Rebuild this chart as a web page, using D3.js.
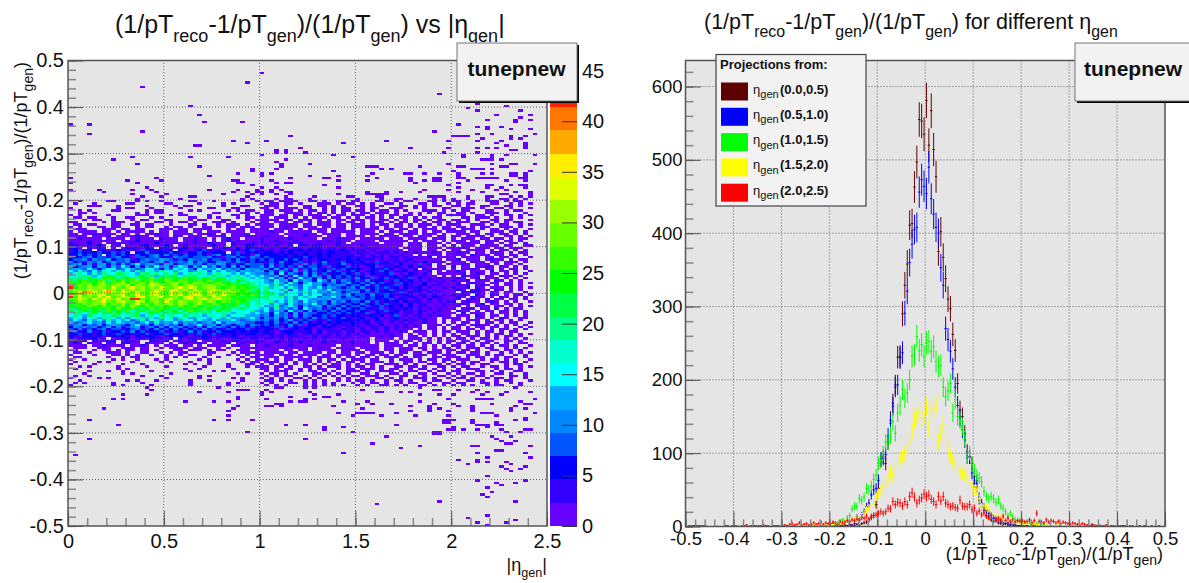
<!DOCTYPE html>
<html>
<head>
<meta charset="utf-8">
<script src="https://cdn.jsdelivr.net/npm/d3@7"></script>
<style>
  html, body { margin: 0; padding: 0; background: #fff; overflow: hidden; }
  text { font-family: "Liberation Sans", Arial, sans-serif; fill: #111; }
</style>
</head>
<body>
<div id="chart"></div>
<script>
// --- left panel data: colour level of every filled cell (100 x 200 bins) ---
const paletteColors = ["#6600ff","#3300ff","#0000ff","#0055ff","#0088ff","#00aaff","#00ffff","#00ffcc","#00ff88","#00ff44",
  "#00ff00","#33ff00","#66ff00","#99ff00","#ddff00","#ffee00","#ffaa00","#ff7700","#ff2200","#ff0000"];
const zMax = 46;

// isolated cells above y = 0.2: [row, col, col, ...]
const topCells = [[5,40],[9,37],[11,15],[14,77],[18,85],[19,25,91],[20,83],[21,85,94],[23,27,89,96],[24,94],[25,87,93,96],
  [26,28,36,93],[27,0,4,81],[28,85,87,90],[29,87,92,96],[30,15,76],[31,4,85,88,97],[32,46,80,81,82,83,92,95],[33,86,92,94],
  [34,34,41,66,79,85,90],[35,37,57,89,95],[36,26,27,91,95],[37,48,71,79,85,87,89,95],[38,43,45,92,93],[39,43,45,49,78,85],
  [40,40,55,82,88,91,97],[41,13,25,33,59,82,88],[42,9,45,86,87,88,90],[43,43],[44,14,44,50,79,88,92,93,97],
  [45,27,44,62,63,64,73,81,82,90,91],[46,38,43,65,67,84,85,86,88],[47,38,55,80,96],[48,35,40,42,63,70,71,74,77,81,86,88,92,93,95],
  [49,29,40,50,56,62,81,92,93,95],[50,0,18,46,53,54,64,71,76,77,81,82,85,86,87,88,89,94,95],[51,12,19,34,35,42,56,62,71,74,76,77,83,91,95],
  [52,0,14,35,36,43,45,46,72,81],[53,38,53,79,87,88,92,94,95],[54,16,40,43,56,81,87,90,95],[55,0,6,13,17,29,35,39,42,44,74,79,84,89,91],
  [56,7,18,34,37,39,40,42,45,46,62,66,69,73,81,86,93,96],[57,13,20,32,38,40,43,46,56,62,63,64,65,66,90,91,96],
  [58,15,19,25,26,37,45,51,58,59,64,65,75,76,77,78,83,87,88,92,94,96],[59,14,23,36,38,43,45,46,50,60,65,68,69,72,76,78,80,83,87,90,91,93,95]];

// isolated cells below y = -0.2
const bottomCells = [[140,16,31,43,44,49,51,73,93],[141,17,35,36,37,41,61,76,77,81,85],[142,27,33,40,42,50,64,65,69,71,84,87,91,96],
  [143,11,16,40,51,56,73,77,80,86,90],[144,35,46,53,54],[145,9,11,35,41,49,51,79,85,86,87,88,97],[146,24,30,33,46,48,49,57,62,73,94],
  [147,43,44,60,63,67,76,80,88,95,96],[148,35,41,42,44,55,71,75,81,84,93],[149,7,34,61,75,77,84,92,95],[150,33,71,75,79,84,92],
  [151,56,60,61,62,63,68,86,87,88,97],[152,33,59,65,72,79,89],[153,95],[154,4,30,33,38,78,79,80,84,93,95],[155,78,79,84,89],
  [156,10,45,49,68,85,86,87,89,90],[157,53,57,80,87],[158,53,79,80,82,85,90,95,96],[159,37,59,76,77,91,94],[160,76,77],[161,66,88,92],
  [162,4,49,89],[163,90,93],[164,63,91,92],[165,73,84,85,96],[166,69],[167,89,90],[168,57,85,95],[169,1],[170,87,96],[171,81,85],
  [172,85,87,91],[173,83,92],[174,90,95],[175,91,94],[176,92],[178,87],[180,85,95],[181,89,93],[182,90],[183,87],[185,88],[186,86],
  [187,87],[189,77,93],[190,64],[195,87],[196,83],[197,93],[198,85,91],[199,87]];

// rows 60..139 (y = 0.2 down to -0.2): one base-36 colour level per column, '.' = empty,
// spaces only split the columns at eta 1, 1.5 and 2
const coreRows = [
"..1.....11....1.1..1.....11...1.....1..1 .11.1111..11.1..11.1 1...11..1.11...11.1. 11..1..111.1.11..",
".1...1......11......11.....1....1.1..... 1.11.11.1...111.1.11 .1.1..11.1...11.1..1 .1.11...11..1.1.1",
"....111...1.....1.....1.11......1...11.. .111.1...11.11.1.1.. 11.1.1...11.1.1.11.. 11.1..11...11.1..",
"1.........1.11...1.....1.....11...11.... 11.1.111.11..1.1.11. .1.11..111..1.1...11 ..111.1..11.1...1",
"..1.1....11.....1.11.....1.1.....1.1.11. .11.111.1.11.1.1.11. 11.1.11.1.1...111.1. 1.11...11..1.11..",
"..11.1........1.1.11...1......11....11.1 .11..1111.1.11.1.1.1 .11.111.1..1.1.1.11. .11.1..111.1...1.",
"1.1.....1.....111....1.11....1....11.1.. 111.11.11.111.1.11.1 11.1.1.11.11.1...1.1 111..11.1..11.1.1",
".11.11...1..11...1.1.....11..1.1...1.11. 11.111.1.1.111.11.1. 1.11.1.1.11.1.1.11.. ..11.111.1..1.1..",
"...1.11..1...1.11...11...1.11...11...1.1 1111.11.111.1.1.11.1 11.1.11.1.1.11.1.11. 11.1.1..11.11...1",
"11.....1.111..1...11.1.11.1...111.1...1. 11.111.11.1.111.1.11 .1.111.1.11.1.1.11.1 .111..11.1.1.11..",
".11.11...11..11.11...1...11.1..1.111.1.1 111.1111.11.111.11.1 11.1.11.11.1.111.1.1 11..111.1.11..1.1",
"1.1...11.11...1.11..1.11.1..11.1.11.111. 111.1211.111.11.11.1 11.11.1.11.1.11.1.11 .11.1.11..111.1..",
".111...111.11.11...111.11.1111...1.11.11 11.1111.1.1111.111.1 .1111.11.11.1.111.11 1.111.1.11.1.1..1",
"1.1111.11.1.1111.1.11.111.11.111.1111.11 11211.11111.11.11111 .111.1.111.11.1.11.1 111.11..111.11.1.",
"11.1121111.11.1.11211.1111.1121.1.1111.1 1111.1111211.1111.11 .1111.11.1111.111.1. .111.1.11.11.1.1.",
"1111.1112.1111211.111.21.111.1112.111211 12111.1112111.111.11 11.1.1111.11.111.11. 11.1111.1..11.1.1",
"1121111.1111.12111.2111.11211.1.1211.111 211111211111.1112111 .11111.111.1111.111. 1.111.11.11.1.11.",
"1111211111.111311112111.11211.1.12121111 2112111211111121211. 1111.111111.1.111.1. 111.11.111.11.1..",
"2111311.1211121111311121112113111.211121 211121212111211121.1 11111.1111.111.111.1 .11111.11.1.11.1.",
"22112131.12.1112311131.1211111311.211321 1212112.221221112111 1211111111.111.11.1. 1.111.1111.11..11",
"231.2122.1.1322132.2211231221.1122131322 21212312212221221212 112121111.1111.111.1 1121.111.11.111..",
"23423.2312321214232323.32123422311232342 32212132323232322322 2212112121.111.11.1. 11.1111.1.11.1.1.",
"2343234334243.3352333432133432333.241323 23323232232232332221 222122212121211121.1 1211.11.111.1.11.",
"3353434.34343243345352434334314534243315 33332323232232322222 121212121211.1.111.1 111.2111.11.11.1.",
"4324534424533144345332544344453214534254 34333323343232322232 2212221221212112.111 1.1111.11.11.1..1",
"3445254463445234544654243544534424353243 43433434313233223232 322212122122111111.1 12.111.1211.1.11.",
"5342546346445325435625454635433554254343 32435233423125322433 2312423122212131211. 111.211.11.111.1.",
"4563525635262574564365245645354653423544 43524334152434223513 2233122213121412.1.1 1121.111.1.11.1..",
"6345636526475363647562576364746253635344 53624342534431423342 2123412232131211.11. 2.11.1121.11.1.1.",
"5664753678457645785364767527565746453655 45362515243523142433 3213224312212.21111. 1.1121.11.1.11.1.",
"7586475876867596786978687568747675646656 63526436153423524134 3123243122312112.1.1 121.111.2.11.1..1",
"6897586987a98769a89797a67989868978675765 54637254363524233432 4213223412132121.111 112.121.11.1.1.1.",
"878a9679ba8a97ab8a6a9ba8a9b789a8967a8676 75463527453642534343 23412322313212211.1. 1.2111.11.211.1..",
"99a8ba8bcb9abc8abdabc9bacba9ba8ba8979868 65746352745363534242 53241342322413121211 121.12.111.1.1.1.",
"a9bcabcd9cbdacdbcdabdcbdcbacbdaba97ba878 76485637465375362543 42523312432312122121 2112.111.21.1.1..",
"cabdcbdeacdebdcdbedacdecdbedcbcdab9a8a97 86576485367564453463 34253423143221311211 12.1211.11.11.1.1",
"bcdcebdecdedebedcfedcdebdedcdedcdbcaba98 87695765487563545534 43524332413212312211 1212.121.1.11.1..",
"jbdcededcfdcegdecedfdcefdfecdeecbcdbcba9 79687586476584654345 35234242313223121121 2112.21.111.1.1.1",
"ceddfedfhecfdedecdfecfgdecfdcefedecdbc9b 89776947586765745454 43534234232123212111 131.1211.21.1.1..",
"cdgihfdehedgecfdcefdcfdecfdecfdcedecbcab 8a978587696756485345 53424333241322131211 1.21321.11.11..1.",
"hdfcedfgcdefcdgdcefdcgdfcegfcefdgdcbcbca 79a86978576784565463 44353243223212212121 2121.21.21.1.11.1",
"jcfdecfdgcdfecfgcdefcdecfgdedcfedcbcabab 9a789685869746575354 34243343122321213211 121.211.1.21.1.1.",
"cdfecfdgedfcdjjdcedcefdcefdegdefddcbbca9 89787685776565645445 54343234232122131211 12.121.2.11.11.1.",
"bcedcdegdcefdcfebdecfdcedcdecedbdcacba89 78967586475645364534 43524232313222121212 2.1211.121.1.1..1",
"acbdcedebdceadfcdbdcdecedbdecbdcbabc9a89 87586475465745354343 35234242231312211121 1121.12.11.11.1..",
"bacbdcbdcacdbecbdacdbcadbcdbaca9bab98a78 75694675364563543534 43423423231312211121 12.1.211.11.1.1.1",
"9abcabcacbdabca9bdacba9bcabacb9aba89a878 67485646375452435343 34232413223212121211 1.121.11.2.1.11..",
"a89baba9cabac8ab9acb9ab8acba9a8b9a788796 57465374536344352433 43213242312213211211 .211.1.11.11.1.1.",
"89a79b8aa9b8a9a79ba8a9ba8a98a97898687767 56374536254433424343 23413223212213112111 1.2.111.1.11.1.1.",
"7986a8798a9789a6897a8977a898688796778666 45364526354334243323 32232312412122121211 .111.21.11.1.1.1.",
"6875786897685789686978597668767868565675 35462534243524323432 23123122321212211.11 11.1.11.1.21..11.",
"5764867586767468578677568757657566754565 45253462434132423332 32213212213121211.1. 11.111.1.11.1.1..",
"6456756475865646748565746564564746565443 34352425343231323223 22312212121211211.1. 1.11.1.11.1.11..1",
"4563546356543574536464536457456354345354 24342352413323132223 21221311212121.111.1 .11.1211.1.1.1.1.",
"3545453462534563453536453425364543534243 33241343223213322122 22122121212111.11.1. 11.1.11.11.1..1.1",
"4352434534423452435243534342534324233423 23324123233122221322 121221212111.1.11.1. 11.11.1.1.11.1.1.",
"3423523423342534233423423534232433323233 23212332223131222122 12212121121.111.1.11 .111.1.11.1.11...",
"2342323432423223423342323224324232322332 22312232122221212121 2121111211.1.11.1.1. 1.11.1.1.11.1.1.1",
"3213223123232132332123232122321222321222 21222122211212212121 1211121211.11.1.1.1. 11.111.1.1.11.1..",
"21222312.1223122132212.21221321211222122 12212121121212111211 111.1111.1.111.1.1.1 .11.1.11.1.1.1.1.",
"1212.21122.1221..2212.12122.121121221212 21122121212112121112 111.111.1.11.1.1.1.1 1.11.1.11..11.1..",
"121.211.21.2211.2111.1.121121.1112.12112 11121121211112111112 111.1.111.1.1.11.1.1 .11.1.11.1.1..11.",
"1111.1121111.1121.1.111.11.1.1111.1211.1 1211112111211111.111 11111.1111.11.1.1.1. 11.11.1.1.11.1..1",
".111..111..111.11..1.1111.111..1.1..1111 1111121111.1211.1111 .1111.11.111.11.1.11 .1.111.11..1.1.1.",
"11...1.11.1.11.11.1...11.111.1.11..111.1 1111.11.11.11111.111 1.111.11.111..1.11.1 1.11.1..11.11.1..",
".11.1...111.1..11..1.1.11....11...1.1111 .1111.11.1111.11.11. 11.111.1.11.11.111.1 .11.11.1..1.1.1.1",
"1....1...11.1.1..1..1..1.11..1...1.1.1.1 111.111.1111.11.111. 1.11.11.11..111.1.11 1..111.1.11..1.1.",
".11.....1..1.11.....1.1.1...1..1....1.11 .111.1111.1.111.1.11 .11.1.111.1.11..11.1 11.1.11..1.11..1.",
"1..1.....1.1..1...1.1......1.1.....1.1.1 11.1.11.111.1.11.1.1 11.11..1.111.1.11.11 .111..1.11.1.1..1",
".1....1.1....1.....1.1...1...1......1.11 .111.1.1.11.1.1.1.11 .1.111.1..11.11.1.1. 1.1.11..1.11.1.1.",
"1....1.....1...1........1.1..1...1...11. 1.1.11.1.1.1.1.11.1. 1.11..111.1.1..111.1 .11.1.11...1.11..",
"..1.1.....1.....1...1.......1....1...1.1 11.11.1..11.1.111.1. 11.1.1..11.11.1..11. 1.11..1.11.1..1.1",
".1........1.1...........1..1......1..... 11.1.11.1.1.11..1.11 .111.1.11..1.11.1.1. .1.111...1.11.1..",
"....1...1..1.....1.......1....1.1....... .1.111..1.11.1.1..11 1.1..111.1.11..1.11. 11...11.1.1..11..",
"...1.......1.1.......1.............1.1.. 1.11.1.1...11.1.1.1. .11.1..11.1..11.1..1 .1.11.1..11.1..1.",
".1..1..........1...1.......1.1.......... .1.1.11..1.1.1.1.1.1 1.111.1..11.1.1..11. 1.1..11.1...11.1.",
"1.....1.1...........1......1......1.1... 1.1.1..11.1.1...1.1. .1..11.1.1..111.1..1 .11.1..1.11.1..1.",
"..1.........1.1...1......1...1......1... .11.1.1..1.1.1..1.1. 11.1..1.11.1..1.11.. 1..11.1..1.11...1",
".1.1.....1.....1.........1.......1.1.... 1.1...11.1.1.1.1...1 .1.11.1..1.11..1..11 .11...11.1..1.1..",
"1........1.1.....1.......1.......1...... .1.1.1...1.1.1.1.1.. 1.1..11.1.1..11.1.1. 1.1.1..1.11...1.."
].map(s => s.replace(/ /g, ""));

// --- right panel data: 200 bins over -0.5..0.5, one line for x<-0.2, one for the core, one for x>0.2 ---
const projDark = [
  0,0,0,1,0,0,0,0,1,0,0,0,0,0,0,0,0,1,0,0,0,0,0,0,1,0,0,0,0,0,0,0,0,1,0,0,0,0,1,0,0,0,1,0,0,1,0,0,0,1,0,1,0,0,1,0,1,0,0,0,
  0,1,0,2,1,0,2,1,3,2,1,3,2,4,5,6,9,12,15,30,52,90,95,86,115,145,168,193,231,232,290,329,358,411,413,463,497,555,553,535,
  581,520,567,514,477,375,402,367,338,310,297,262,240,195,159,150,127,102,95,86,68,54,36,27,23,15,12,9,7,8,5,4,3,4,2,3,1,2,1,1,
  1,0,1,0,0,1,0,0,1,0,0,1,0,0,0,0,1,0,0,0,0,0,1,0,0,0,0,0,0,1,0,0,0,0,0,0,0,1,0,0,0,0,0,0,0,0,0,0,0,0,0,1,0,0,0,0,0,0,0,0];
const projBlue = [
  0,0,0,0,0,1,0,0,0,0,0,0,0,1,0,0,0,0,0,0,0,1,0,0,0,0,0,0,1,0,0,0,0,0,1,0,0,0,0,0,1,0,0,0,1,0,0,1,0,0,1,0,0,1,0,0,1,0,1,0,
  0,0,1,0,1,2,0,1,2,1,4,13,9,16,20,27,32,43,50,52,63,92,93,98,123,141,164,190,193,230,237,291,321,360,385,405,408,456,473,464,
  454,490,447,426,408,400,353,329,270,255,239,215,190,165,148,132,118,95,95,73,59,63,40,32,27,22,18,16,11,12,9,7,5,4,5,2,3,2,1,1,
  1,1,0,1,1,0,1,0,0,1,0,1,0,0,1,0,0,0,1,0,0,0,0,1,0,0,0,0,0,0,0,1,0,0,0,0,0,0,0,0,0,0,1,0,0,0,0,0,0,0,0,0,0,0,0,0,0,0,0,0];
const projGreen = [
  0,0,0,0,0,0,0,0,1,0,0,0,0,0,0,0,1,0,0,0,0,1,0,0,0,0,1,0,0,0,0,1,0,0,0,0,1,0,0,1,1,0,1,0,1,1,0,1,1,2,1,1,2,1,2,1,3,2,1,3,
  2,4,3,5,6,9,7,12,15,24,28,27,38,36,40,52,50,55,64,70,86,90,100,115,115,125,143,127,155,165,186,175,182,200,232,234,259,240,248,232,
  250,252,239,245,225,218,220,190,177,185,195,155,173,150,145,136,120,95,100,85,77,70,66,61,48,41,38,41,38,33,36,28,25,20,15,18,14,10,8,9,
  7,6,5,4,5,3,4,3,2,3,2,1,2,1,1,2,1,0,1,1,0,1,0,1,0,0,1,0,0,0,0,0,1,0,0,0,0,0,0,1,0,0,0,0,0,0,0,0,0,1,0,0,0,0,0,0,0,0,0,0];
const projYellow = [
  0,0,0,0,0,0,0,0,0,0,0,0,0,1,1,0,0,0,0,0,0,0,0,1,0,0,0,0,0,1,0,0,0,0,1,0,0,1,0,0,1,1,0,1,0,2,1,1,2,1,2,1,1,3,2,2,3,2,4,2,
  3,2,4,3,5,4,6,8,7,10,9,12,14,15,18,23,25,31,30,41,45,50,55,59,65,75,68,78,86,92,95,100,102,114,130,145,150,155,148,152,
  164,134,159,161,166,116,127,139,124,105,95,90,86,80,73,73,70,68,60,55,50,50,38,27,28,27,24,18,17,15,12,14,10,8,9,7,6,5,6,4,
  4,3,5,2,3,4,2,3,2,1,2,1,2,1,1,2,1,0,1,1,1,0,1,1,0,1,0,0,1,0,0,0,1,0,0,0,0,1,0,0,0,0,0,0,1,0,0,0,0,0,0,0,0,0,0,1,0,0,0,0];
const projRed = [
  0,1,1,0,1,1,1,1,0,0,0,0,0,0,0,0,1,1,0,1,1,0,0,1,1,2,0,1,0,1,1,1,2,1,1,0,1,1,1,0,1,2,1,3,4,2,3,5,2,3,4,2,3,5,3,4,6,3,5,4,
  4,6,5,3,7,5,6,8,7,9,8,10,9,12,11,14,10,14,15,16,18,20,18,20,25,24,34,30,33,32,28,34,30,41,46,40,32,36,39,44,
  41,43,37,34,30,41,35,41,32,30,27,28,26,25,36,28,27,27,30,23,25,18,21,16,18,14,12,15,12,10,11,9,14,8,11,7,9,6,8,7,
  8,6,7,9,5,8,18,7,6,5,9,6,8,7,5,7,4,6,5,4,3,5,4,3,2,4,3,2,1,3,2,1,2,1,1,2,0,1,1,0,1,1,0,1,0,1,1,0,0,1,0,1,0,0,1,0,0,1,0,0];

const seriesList = [
  { label: "(0.0,0.5)", color: "#660000", swatch: "#5c0000", values: projDark },
  { label: "(0.5,1.0)", color: "#0000ff", swatch: "#0000ff", values: projBlue },
  { label: "(1.0,1.5)", color: "#00ff00", swatch: "#00ff00", values: projGreen },
  { label: "(1.5,2.0)", color: "#ffff00", swatch: "#ffff00", values: projYellow },
  { label: "(2.0,2.5)", color: "#ff0000", swatch: "#ff0000", values: projRed }
];

const etaTicks = [0, 0.5, 1, 1.5, 2, 2.5];
const resTicks = [-0.5, -0.4, -0.3, -0.2, -0.1, 0, 0.1, 0.2, 0.3, 0.4, 0.5];
const zTicks = [0, 5, 10, 15, 20, 25, 30, 35, 40, 45];
const countTicks = [0, 100, 200, 300, 400, 500, 600];

const width = 1189, height = 583;
const svg = d3.select("#chart").append("svg").attr("width", width).attr("height", height);

// text with subscripts, parts are [string, isSub]
function richText(g, x, y, parts, size, opts = {}) {
  const t = g.append("text").attr("x", x).attr("y", y)
    .attr("font-size", size)
    .attr("text-anchor", opts.anchor || "start")
    .attr("font-weight", opts.weight || "normal");
  if (opts.rotate) t.attr("transform", `rotate(-90 ${x} ${y})`);
  const drop = size * (opts.drop || 0.36);
  let down = false;
  parts.forEach(([str, sub]) => {
    const s = t.append("tspan").text(str);
    if (sub) s.attr("font-size", size * (opts.subScale || 0.72));
    if (sub && !down) { s.attr("dy", drop); down = true; }
    else if (!sub && down) { s.attr("dy", -drop); down = false; }
  });
  return t;
}

function styleAxis(g, color, fontSize, lineWidth = 1) {
  g.select(".domain").remove();
  g.selectAll("line").attr("stroke", color).attr("stroke-width", lineWidth);
  g.selectAll("text").attr("font-size", fontSize).style("fill", "#111");
}

function gridLines(g, xs, ys, x, y) {
  const r = x.range(), b = y.range();
  xs.forEach(v => g.append("line").attr("x1", x(v)).attr("x2", x(v)).attr("y1", b[0]).attr("y2", b[1])
    .attr("stroke", "#666").attr("stroke-dasharray", "1,2"));
  ys.forEach(v => g.append("line").attr("x1", r[0]).attr("x2", r[1]).attr("y1", y(v)).attr("y2", y(v))
    .attr("stroke", "#666").attr("stroke-dasharray", "1,2"));
}

function statBox(x, y, w, h, label, textX) {
  svg.append("rect").attr("x", x + 2).attr("y", y + 2).attr("width", w).attr("height", h).attr("fill", "#000");
  svg.append("rect").attr("x", x).attr("y", y).attr("width", w).attr("height", h)
    .attr("fill", "#f2f2f2").attr("stroke", "#777").attr("stroke-width", 1);
  svg.append("text").attr("x", textX).attr("y", y + 33).attr("text-anchor", "middle")
    .attr("font-size", 21).attr("font-weight", "bold").text(label);
}

// ---------- left panel ----------
const etaX = d3.scaleLinear().domain([0, 2.5]).range([68, 547]);
const resY = d3.scaleLinear().domain([-0.5, 0.5]).range([526, 60.5]);
const zY = d3.scaleLinear().domain([0, zMax]).range([526, 60.5]);
const zColor = d3.scaleQuantize().domain([0, zMax]).range(paletteColors);
const levelToZ = l => (l - 0.5) * zMax / paletteColors.length;

const cells = [];
[...topCells, ...bottomCells].forEach(([row, ...cols]) => cols.forEach(col => cells.push({ row, col, z: levelToZ(1) })));
coreRows.forEach((s, i) => {
  s.split("").forEach((c, col) => {
    if (c !== ".") cells.push({ row: 60 + i, col, z: levelToZ(parseInt(c, 36)) });
  });
});

const left = svg.append("g");
left.append("rect").attr("x", 68).attr("y", 60.5).attr("width", 479).attr("height", 465.5).attr("fill", "#e5e5e5");

left.append("g").attr("shape-rendering", "crispEdges")
  .selectAll("rect").data(cells).enter().append("rect")
  .attr("x", d => etaX(d.col * 0.025))
  .attr("y", d => resY(0.5 - d.row * 0.005))
  .attr("width", etaX(0.025) - etaX(0))
  .attr("height", resY(0) - resY(0.005))
  .attr("fill", d => zColor(d.z));

gridLines(left.append("g"), etaTicks.slice(1, -1), resTicks.slice(1, -1), etaX, resY);

// axes, ticks pointing inwards like ROOT
const leftMinorX = left.append("g").attr("transform", "translate(0,526)")
  .call(d3.axisBottom(etaX).tickValues(d3.range(0, 2.501, 0.1)).tickSize(-8).tickFormat(""));
styleAxis(leftMinorX, "#888", 0, 1.5);
const leftMinorY = left.append("g").attr("transform", "translate(68,0)")
  .call(d3.axisLeft(resY).tickValues(d3.range(-0.5, 0.501, 0.02)).tickSize(-8).tickFormat(""));
styleAxis(leftMinorY, "#888", 0, 1.5);
const leftX = left.append("g").attr("transform", "translate(0,526)")
  .call(d3.axisBottom(etaX).tickValues(etaTicks).tickSize(-15).tickPadding(8).tickFormat(d => String(d)));
styleAxis(leftX, "#555", 20);
const leftY = left.append("g").attr("transform", "translate(68,0)")
  .call(d3.axisLeft(resY).tickValues(resTicks).tickSize(-15).tickPadding(4).tickFormat(d => String(d)));
styleAxis(leftY, "#555", 20);

left.append("rect").attr("x", 68).attr("y", 60.5).attr("width", 479).attr("height", 465.5)
  .attr("fill", "none").attr("stroke", "#555").attr("stroke-width", 1.5);

// colour bar
left.append("g").attr("shape-rendering", "crispEdges")
  .selectAll("rect").data(paletteColors).enter().append("rect")
  .attr("x", 550).attr("width", 27)
  .attr("y", (d, i) => zY((i + 1) * zMax / paletteColors.length))
  .attr("height", zY(0) - zY(zMax / paletteColors.length))
  .attr("fill", d => d);
const zAxis = left.append("g").attr("transform", "translate(577,0)")
  .call(d3.axisRight(zY).tickValues(zTicks).tickSize(-15).tickPadding(5).tickFormat(d => String(d)));
styleAxis(zAxis, "#333", 20);

richText(svg, 115, 33, [["(1/pT"], ["reco", 1], ["-1/pT"], ["gen", 1], [")/(1/pT"], ["gen", 1], [") vs |η"], ["gen", 1], ["|"]], 25);
richText(svg, 27, 62, [["(1/pT"], ["reco", 1], ["-1/pT"], ["gen", 1], [")/(1/pT"], ["gen", 1], [")"]], 18, { anchor: "end", rotate: true, subScale: 0.78 });
richText(svg, 547, 571, [["|η"], ["gen", 1], ["|"]], 18, { anchor: "end", subScale: 0.7 });
statBox(457, 43, 120, 58, "tunepnew", 516.5);

// ---------- right panel ----------
const binX = d3.scaleLinear().domain([-0.5, 0.5]).range([685.5, 1165]);
const countY = d3.scaleLinear().domain([0, 635.5]).range([526.5, 60.5]);
const binW = 1 / 200;

const right = svg.append("g");
right.append("rect").attr("x", 685.5).attr("y", 60.5).attr("width", 479.5).attr("height", 466).attr("fill", "#e5e5e5");
gridLines(right.append("g"), resTicks.slice(1, -1), countTicks.slice(1), binX, countY);

seriesList.forEach(s => {
  const bins = s.values.map((v, i) => ({ v, lo: -0.5 + i * binW })).filter(d => d.v > 0);
  const g = right.append("g").attr("stroke", s.color).attr("stroke-width", 1);
  g.selectAll(".err").data(bins).enter().append("line")
    .attr("x1", d => binX(d.lo + binW / 2)).attr("x2", d => binX(d.lo + binW / 2))
    .attr("y1", d => countY(Math.max(0, d.v - Math.sqrt(d.v)))).attr("y2", d => countY(d.v + Math.sqrt(d.v)));
  g.selectAll(".bin").data(bins).enter().append("line")
    .attr("x1", d => binX(d.lo)).attr("x2", d => binX(d.lo + binW))
    .attr("y1", d => countY(d.v)).attr("y2", d => countY(d.v));
});

const rightMinorX = right.append("g").attr("transform", "translate(0,526.5)")
  .call(d3.axisBottom(binX).tickValues(d3.range(-0.5, 0.501, 0.02)).tickSize(-7).tickFormat(""));
styleAxis(rightMinorX, "#888", 0, 1.5);
const rightMinorY = right.append("g").attr("transform", "translate(685.5,0)")
  .call(d3.axisLeft(countY).tickValues(d3.range(0, 621, 20)).tickSize(-8).tickFormat(""));
styleAxis(rightMinorY, "#888", 0, 1.5);
const rightX = right.append("g").attr("transform", "translate(0,526.5)")
  .call(d3.axisBottom(binX).tickValues(resTicks).tickSize(-15).tickPadding(5).tickFormat(d => String(d)));
styleAxis(rightX, "#555", 18.5);
const rightY = right.append("g").attr("transform", "translate(685.5,0)")
  .call(d3.axisLeft(countY).tickValues(countTicks).tickSize(-15).tickPadding(3).tickFormat(d => String(d)));
styleAxis(rightY, "#555", 18.5);

right.append("rect").attr("x", 685.5).attr("y", 60.5).attr("width", 479.5).attr("height", 466)
  .attr("fill", "none").attr("stroke", "#555").attr("stroke-width", 1.5);

richText(svg, 704, 29, [["(1/pT"], ["reco", 1], ["-1/pT"], ["gen", 1], [")/(1/pT"], ["gen", 1], [") for different η"], ["gen", 1]], 21.5, { subScale: 0.74 });
richText(svg, 1163, 560, [["(1/pT"], ["reco", 1], ["-1/pT"], ["gen", 1], [")/(1/pT"], ["gen", 1], [")"]], 18, { anchor: "end", subScale: 0.78, drop: 0.3 });
statBox(1075, 43, 120, 58, "tunepnew", 1133);

// legend
const legend = svg.append("g");
legend.append("rect").attr("x", 716).attr("y", 54.5).attr("width", 150).attr("height", 151.5)
  .attr("fill", "#f2f2f2").attr("stroke", "#444").attr("stroke-width", 1.2);
legend.append("text").attr("x", 720).attr("y", 69).attr("font-size", 13).attr("font-weight", "bold").text("Projections from:");
const legendY = d3.scaleBand().domain(seriesList.map(d => d.label)).range([79.5, 206]);
seriesList.forEach(s => {
  const y = legendY(s.label);
  legend.append("rect").attr("x", 721).attr("y", y + 3).attr("width", 27).attr("height", 18).attr("fill", s.swatch);
  richText(legend, 753, y + 14, [["η"], ["gen", 1]], 13, { subScale: 0.85 });
  legend.append("text").attr("x", 780).attr("y", y + 14).attr("font-size", 13).attr("font-weight", "bold").text(s.label);
});
</script>
</body>
</html>
